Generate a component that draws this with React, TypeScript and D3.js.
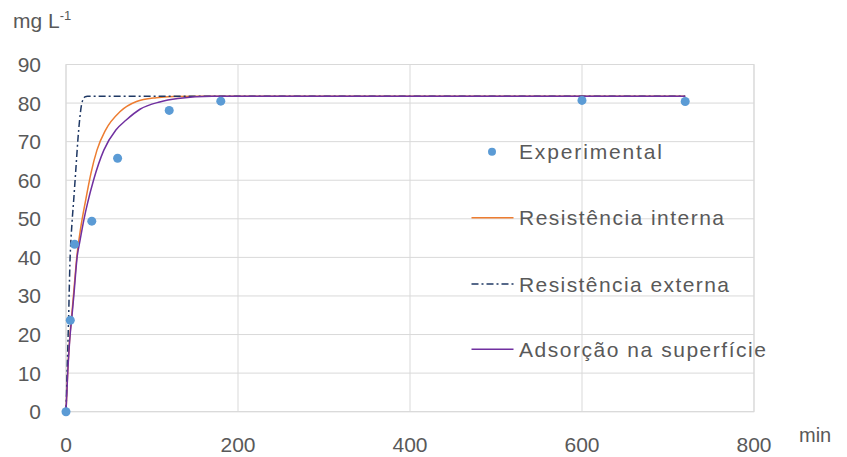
import * as d3 from "d3";

// experimental data (min, mg/L)
const expT = [0, 5, 10, 30, 60, 120, 180, 600, 720];
const expV = [0, 23.7, 43.4, 49.4, 65.7, 78.1, 80.5, 80.7, 80.4];

// model curves
const intT = [0, 2, 5, 6.5, 9, 13, 17, 23, 29, 36, 46, 63, 82, 105, 125, 160, 720];
const intV = [0, 10.5, 21, 24.5, 31, 41, 47.5, 55, 61.8, 67.8, 73, 77.8, 80.4, 81.4, 81.7, 81.8, 81.8];

const extT = [0, 1.5, 3, 4.5, 7, 9, 11.5, 14, 16, 18, 20, 22, 25, 720];
const extV = [0, 12, 24, 38, 49, 55, 63, 71, 76, 79.5, 81, 81.6, 81.8, 81.8];

const adsT = [0, 2, 5, 6.5, 9, 13, 16, 21, 25, 32, 44, 58, 70, 86, 109, 130, 170, 720];
const adsV = [0, 10, 20.4, 23.8, 29.8, 40.2, 44, 50, 54, 60, 67.8, 73, 75.6, 78.4, 80.3, 81.2, 81.8, 81.8];

const xTicks = [0, 200, 400, 600, 800];
const yTicks = [0, 10, 20, 30, 40, 50, 60, 70, 80, 90];

const legendLabels = ["Experimental", "Resistência interna", "Resistência externa", "Adsorção na superfície"];
const legendWidths = [143, 205, 210, 247];

const W = 847;
const H = 457;
const left = 66, right = 754, top = 64.5, bottom = 411.7;
const txt = "#595959";
const grid = "#d9d9d9";
const font = "'Liberation Sans', Arial, sans-serif";

export default function App() {
  const x = d3.scaleLinear().domain([0, 800]).range([left, right]);
  const y = d3.scaleLinear().domain([0, 90]).range([bottom, top]);

  const line = d3
    .line<[number, number]>()
    .x((d) => x(d[0]))
    .y((d) => y(d[1]))
    .curve(d3.curveMonotoneX);

  const zip = (a: number[], b: number[]) => a.map((t, i) => [t, b[i]] as [number, number]);

  const series = [
    { pts: zip(intT, intV), color: "#ED7D31", dash: undefined, w: 1.5 },
    { pts: zip(extT, extV), color: "#1F3864", dash: "7,3,2,3", w: 1.5 },
    { pts: zip(adsT, adsV), color: "#7030A0", dash: undefined, w: 1.5 },
  ];

  const legendY = [151.7, 217.7, 284, 349.3];
  const legendStyle = [
    null,
    { color: "#ED7D31", dash: undefined },
    { color: "#1F3864", dash: "7,3,2,3" },
    { color: "#7030A0", dash: undefined },
  ];

  return (
    <svg
      width={W}
      height={H}
      style={{ position: "absolute", left: 0, top: 0, background: "#fff" }}
      fontFamily={font}
    >
      <rect x={0} y={0} width={W} height={H} fill="#fff" />
      {yTicks.map((t) => (
        <line key={"gy" + t} x1={left} x2={right} y1={y(t)} y2={y(t)} stroke={grid} strokeWidth={1} />
      ))}
      {xTicks.map((t) => (
        <line key={"gx" + t} x1={x(t)} x2={x(t)} y1={top} y2={bottom} stroke={grid} strokeWidth={1} />
      ))}
      <rect x={left} y={top} width={right - left} height={bottom - top} fill="none" stroke={grid} />
      {yTicks.map((t) => (
        <text key={"ty" + t} x={41} y={y(t) + 7.5} textAnchor="end" fontSize={21} fill={txt}>
          {t}
        </text>
      ))}
      {xTicks.map((t) => (
        <text key={"tx" + t} x={x(t)} y={452} textAnchor="middle" fontSize={21} fill={txt}>
          {t}
        </text>
      ))}
      <text x={13} y={28} fontSize={21} fill={txt}>
        mg L<tspan fontSize={13} dy={-8}>-1</tspan>
      </text>
      <text x={799} y={442} fontSize={20} fill={txt}>
        min
      </text>

      {series.map((s, i) => (
        <path
          key={"s" + i}
          d={line(s.pts) ?? ""}
          fill="none"
          stroke={s.color}
          strokeWidth={s.w}
          strokeDasharray={s.dash}
        />
      ))}
      {expT.map((t, i) => (
        <circle key={"p" + i} cx={x(t)} cy={y(expV[i])} r={4.5} fill="#5B9BD5" />
      ))}

      {legendLabels.map((lab, i) => (
        <g key={"lg" + i}>
          {i === 0 ? (
            <circle cx={492} cy={legendY[i]} r={4} fill="#5B9BD5" />
          ) : (
            <line
              x1={471.5}
              x2={513.5}
              y1={legendY[i]}
              y2={legendY[i]}
              stroke={legendStyle[i]!.color}
              strokeWidth={1.5}
              strokeDasharray={legendStyle[i]!.dash}
            />
          )}
          <text
            x={519}
            y={legendY[i] + 7.5}
            fontSize={21}
            fill={txt}
            textLength={legendWidths[i]}
            lengthAdjust="spacing"
          >
            {lab}
          </text>
        </g>
      ))}
    </svg>
  );
}
